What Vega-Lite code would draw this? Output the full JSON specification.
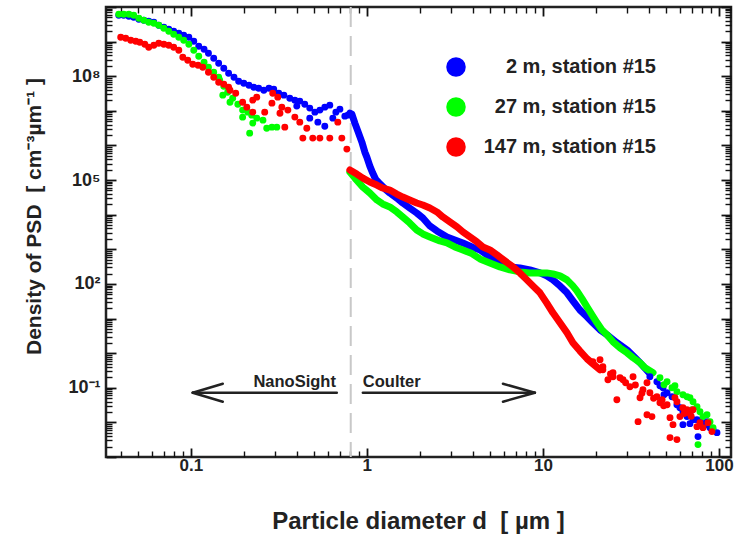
{
  "$schema": "https://vega.github.io/schema/vega-lite/v6.json",
  "width": 625,
  "height": 450,
  "autosize": {"type": "none"},
  "padding": {"left": 106, "top": 7, "right": 9, "bottom": 82},
  "background": "white",
  "config": {
    "view": {"stroke": "#222222", "strokeWidth": 2.5},
    "axis": {"domain": false, "grid": false, "tickColor": "#111111", "tickWidth": 1.8, "labelFont": "Liberation Sans", "labelFontWeight": "bold", "labelColor": "#222222", "titleFont": "Liberation Sans", "titleFontWeight": "bold", "titleColor": "#222222", "labelOverlap": false, "labelFlush": false}
  },
  "resolve": {"axis": {"x": "independent", "y": "independent"}},
  "datasets": {
    "c2": [
      {"d": 0.801, "v": 8.57e6}, {"d": 0.822, "v": 8.03e6}, {"d": 0.855, "v": 4.42e6}, {"d": 0.889, "v": 2.59e6}, {"d": 0.937, "v": 1.25e6}, {"d": 0.974, "v": 6.43e5}, {"d": 1.0, "v": 4.62e5}, {"d": 1.04, "v": 2.54e5}, {"d": 1.08, "v": 1.59e5}, {"d": 1.12, "v": 1.07e5}, {"d": 1.19, "v": 7.67e4}, {"d": 1.27, "v": 5.51e4}, {"d": 1.35, "v": 4.23e4}, {"d": 1.48, "v": 3.03e4}, {"d": 1.6, "v": 2.18e4}, {"d": 1.75, "v": 1.56e4}, {"d": 1.92, "v": 1.12e4}, {"d": 2.08, "v": 8040}, {"d": 2.28, "v": 4720}, {"d": 2.5, "v": 3390}, {"d": 2.85, "v": 2280}, {"d": 3.16, "v": 1860}, {"d": 3.51, "v": 1530}, {"d": 3.95, "v": 1170}, {"d": 4.39, "v": 959}, {"d": 5.0, "v": 603}, {"d": 5.7, "v": 378}, {"d": 6.49, "v": 310}, {"d": 7.4, "v": 290}, {"d": 8.43, "v": 254}, {"d": 9.62, "v": 208}, {"d": 10.5, "v": 171}, {"d": 11.4, "v": 131}, {"d": 12.5, "v": 87.7}, {"d": 13.7, "v": 55.2}, {"d": 14.8, "v": 32.4}, {"d": 16.2, "v": 17.8}, {"d": 17.8, "v": 11.2}, {"d": 19.2, "v": 7.53}, {"d": 21.1, "v": 4.73}, {"d": 23.1, "v": 3.4}, {"d": 26.3, "v": 2.0}, {"d": 30.0, "v": 1.25}, {"d": 32.5, "v": 0.842}, {"d": 35.6, "v": 0.529}, {"d": 40.5, "v": 0.255}
    ],
    "c27": [
      {"d": 0.801, "v": 1.7e5}, {"d": 0.855, "v": 1.14e5}, {"d": 0.949, "v": 6.29e4}, {"d": 1.04, "v": 4.23e4}, {"d": 1.14, "v": 2.66e4}, {"d": 1.23, "v": 2.04e4}, {"d": 1.35, "v": 1.67e4}, {"d": 1.48, "v": 1.2e4}, {"d": 1.6, "v": 8590}, {"d": 1.75, "v": 5770}, {"d": 1.92, "v": 3620}, {"d": 2.08, "v": 2780}, {"d": 2.28, "v": 2280}, {"d": 2.6, "v": 1740}, {"d": 2.85, "v": 1530}, {"d": 3.16, "v": 1170}, {"d": 3.51, "v": 959}, {"d": 3.95, "v": 752}, {"d": 4.39, "v": 528}, {"d": 5.0, "v": 405}, {"d": 5.7, "v": 310}, {"d": 6.49, "v": 254}, {"d": 7.4, "v": 222}, {"d": 8.43, "v": 208}, {"d": 9.62, "v": 208}, {"d": 10.5, "v": 208}, {"d": 11.4, "v": 195}, {"d": 12.5, "v": 171}, {"d": 13.7, "v": 131}, {"d": 14.8, "v": 87.7}, {"d": 15.6, "v": 63.1}, {"d": 16.7, "v": 37.0}, {"d": 17.8, "v": 21.8}, {"d": 19.0, "v": 12.8}, {"d": 20.3, "v": 7.53}, {"d": 21.6, "v": 4.73}, {"d": 23.1, "v": 3.4}, {"d": 25.0, "v": 2.13}, {"d": 27.4, "v": 1.43}, {"d": 30.0, "v": 1.03}, {"d": 32.5, "v": 0.738}, {"d": 35.6, "v": 0.529}, {"d": 38.0, "v": 0.379}, {"d": 42.2, "v": 0.272}
    ],
    "c147": [
      {"d": 0.801, "v": 1.95e5}, {"d": 0.877, "v": 1.49e5}, {"d": 0.949, "v": 1.14e5}, {"d": 1.04, "v": 8.79e4}, {"d": 1.14, "v": 7.18e4}, {"d": 1.23, "v": 5.9e4}, {"d": 1.35, "v": 5.15e4}, {"d": 1.48, "v": 3.96e4}, {"d": 1.6, "v": 3.24e4}, {"d": 1.75, "v": 2.66e4}, {"d": 1.92, "v": 2.18e4}, {"d": 2.08, "v": 1.91e4}, {"d": 2.28, "v": 1.56e4}, {"d": 2.5, "v": 1.2e4}, {"d": 2.7, "v": 8590}, {"d": 2.96, "v": 6170}, {"d": 3.25, "v": 4430}, {"d": 3.51, "v": 3180}, {"d": 3.85, "v": 2280}, {"d": 4.22, "v": 1630}, {"d": 4.56, "v": 1170}, {"d": 5.0, "v": 959}, {"d": 5.48, "v": 689}, {"d": 6.08, "v": 462}, {"d": 6.76, "v": 310}, {"d": 7.4, "v": 208}, {"d": 8.11, "v": 131}, {"d": 8.77, "v": 87.7}, {"d": 9.62, "v": 55.2}, {"d": 10.5, "v": 28.4}, {"d": 11.4, "v": 14.6}, {"d": 12.5, "v": 7.53}, {"d": 13.7, "v": 3.87}, {"d": 14.8, "v": 2.0}, {"d": 16.2, "v": 1.17}, {"d": 17.8, "v": 0.69}, {"d": 19.2, "v": 0.495}, {"d": 21.1, "v": 0.332}
    ],
    "pts": [
      {"series": "2 m, station #15", "d": 0.039, "v": 5.77e9}, {"series": "2 m, station #15", "d": 0.0416, "v": 5.77e9}, {"series": "2 m, station #15", "d": 0.0445, "v": 5.4e9}, {"series": "2 m, station #15", "d": 0.0474, "v": 5.05e9}, {"series": "2 m, station #15", "d": 0.0507, "v": 4.42e9}, {"series": "2 m, station #15", "d": 0.0541, "v": 4.13e9}, {"series": "2 m, station #15", "d": 0.0577, "v": 3.87e9}, {"series": "2 m, station #15", "d": 0.0617, "v": 3.62e9}, {"series": "2 m, station #15", "d": 0.0658, "v": 2.97e9}, {"series": "2 m, station #15", "d": 0.0703, "v": 2.6e9}, {"series": "2 m, station #15", "d": 0.075, "v": 2.28e9}, {"series": "2 m, station #15", "d": 0.08, "v": 1.99e9}, {"series": "2 m, station #15", "d": 0.0855, "v": 1.74e9}, {"series": "2 m, station #15", "d": 0.0912, "v": 1.53e9}, {"series": "2 m, station #15", "d": 0.0975, "v": 1.34e9}, {"series": "2 m, station #15", "d": 0.104, "v": 1.03e9}, {"series": "2 m, station #15", "d": 0.111, "v": 7.35e8}, {"series": "2 m, station #15", "d": 0.119, "v": 6.03e8}, {"series": "2 m, station #15", "d": 0.126, "v": 4.61e8}, {"series": "2 m, station #15", "d": 0.135, "v": 3.31e8}, {"series": "2 m, station #15", "d": 0.144, "v": 2.38e8}, {"series": "2 m, station #15", "d": 0.154, "v": 1.71e8}, {"series": "2 m, station #15", "d": 0.164, "v": 1.22e8}, {"series": "2 m, station #15", "d": 0.176, "v": 9.38e7}, {"series": "2 m, station #15", "d": 0.187, "v": 7.19e7}, {"series": "2 m, station #15", "d": 0.2, "v": 6.3e7}, {"series": "2 m, station #15", "d": 0.214, "v": 5.52e7}, {"series": "2 m, station #15", "d": 0.228, "v": 4.83e7}, {"series": "2 m, station #15", "d": 0.243, "v": 4.52e7}, {"series": "2 m, station #15", "d": 0.26, "v": 3.95e7}, {"series": "2 m, station #15", "d": 0.278, "v": 4.52e7}, {"series": "2 m, station #15", "d": 0.296, "v": 4.23e7}, {"series": "2 m, station #15", "d": 0.316, "v": 3.24e7}, {"series": "2 m, station #15", "d": 0.338, "v": 2.84e7}, {"series": "2 m, station #15", "d": 0.365, "v": 2.32e7}, {"series": "2 m, station #15", "d": 0.39, "v": 2.04e7}, {"series": "2 m, station #15", "d": 0.416, "v": 1.91e7}, {"series": "2 m, station #15", "d": 0.4, "v": 1.37e7}, {"series": "2 m, station #15", "d": 0.444, "v": 1.56e7}, {"series": "2 m, station #15", "d": 0.474, "v": 1.2e7}, {"series": "2 m, station #15", "d": 0.507, "v": 9.17e6}, {"series": "2 m, station #15", "d": 0.474, "v": 6.15e6}, {"series": "2 m, station #15", "d": 0.541, "v": 1.05e7}, {"series": "2 m, station #15", "d": 0.527, "v": 4.72e6}, {"series": "2 m, station #15", "d": 0.577, "v": 3.61e6}, {"series": "2 m, station #15", "d": 0.577, "v": 1.28e7}, {"series": "2 m, station #15", "d": 0.616, "v": 1.46e7}, {"series": "2 m, station #15", "d": 0.641, "v": 6.15e6}, {"series": "2 m, station #15", "d": 0.667, "v": 9.17e6}, {"series": "2 m, station #15", "d": 0.703, "v": 1.12e7}, {"series": "2 m, station #15", "d": 0.75, "v": 7.03e6}, {"series": "2 m, station #15", "d": 0.78, "v": 7.51e6},
      {"series": "2 m, station #15", "d": 40.5, "v": 0.209}, {"series": "2 m, station #15", "d": 44.4, "v": 0.15}, {"series": "2 m, station #15", "d": 46.2, "v": 0.115}, {"series": "2 m, station #15", "d": 48.1, "v": 0.1}, {"series": "2 m, station #15", "d": 48.7, "v": 0.0631}, {"series": "2 m, station #15", "d": 50.7, "v": 0.0721}, {"series": "2 m, station #15", "d": 54.1, "v": 0.0552}, {"series": "2 m, station #15", "d": 57.7, "v": 0.0325}, {"series": "2 m, station #15", "d": 60.0, "v": 0.0266}, {"series": "2 m, station #15", "d": 62.4, "v": 0.0204}, {"series": "2 m, station #15", "d": 62.4, "v": 0.00861}, {"series": "2 m, station #15", "d": 65.8, "v": 0.0147}, {"series": "2 m, station #15", "d": 68.4, "v": 0.0167}, {"series": "2 m, station #15", "d": 68.4, "v": 0.0092}, {"series": "2 m, station #15", "d": 71.2, "v": 0.012}, {"series": "2 m, station #15", "d": 75.0, "v": 0.012}, {"series": "2 m, station #15", "d": 76.0, "v": 0.00388}, {"series": "2 m, station #15", "d": 78.0, "v": 0.0112}, {"series": "2 m, station #15", "d": 81.1, "v": 0.0092}, {"series": "2 m, station #15", "d": 85.5, "v": 0.00861}, {"series": "2 m, station #15", "d": 85.5, "v": 0.0105}, {"series": "2 m, station #15", "d": 88.9, "v": 0.00705}, {"series": "2 m, station #15", "d": 92.5, "v": 0.00618}, {"series": "2 m, station #15", "d": 97.4, "v": 0.00506},
      {"series": "27 m, station #15", "d": 0.039, "v": 6.15e9}, {"series": "27 m, station #15", "d": 0.0416, "v": 6.15e9}, {"series": "27 m, station #15", "d": 0.0445, "v": 6.15e9}, {"series": "27 m, station #15", "d": 0.0474, "v": 5.77e9}, {"series": "27 m, station #15", "d": 0.0507, "v": 4.72e9}, {"series": "27 m, station #15", "d": 0.0541, "v": 4.13e9}, {"series": "27 m, station #15", "d": 0.0577, "v": 3.62e9}, {"series": "27 m, station #15", "d": 0.0617, "v": 3.39e9}, {"series": "27 m, station #15", "d": 0.0658, "v": 2.97e9}, {"series": "27 m, station #15", "d": 0.0703, "v": 2.43e9}, {"series": "27 m, station #15", "d": 0.075, "v": 1.99e9}, {"series": "27 m, station #15", "d": 0.08, "v": 1.63e9}, {"series": "27 m, station #15", "d": 0.0855, "v": 1.34e9}, {"series": "27 m, station #15", "d": 0.0912, "v": 1.1e9}, {"series": "27 m, station #15", "d": 0.0975, "v": 8.39e8}, {"series": "27 m, station #15", "d": 0.104, "v": 5.63e8}, {"series": "27 m, station #15", "d": 0.111, "v": 3.78e8}, {"series": "27 m, station #15", "d": 0.119, "v": 2.54e8}, {"series": "27 m, station #15", "d": 0.126, "v": 1.82e8}, {"series": "27 m, station #15", "d": 0.135, "v": 1.31e8}, {"series": "27 m, station #15", "d": 0.144, "v": 9.38e7}, {"series": "27 m, station #15", "d": 0.146, "v": 7.69e7}, {"series": "27 m, station #15", "d": 0.154, "v": 5.16e7}, {"series": "27 m, station #15", "d": 0.152, "v": 2.84e7}, {"series": "27 m, station #15", "d": 0.162, "v": 3.46e7}, {"series": "27 m, station #15", "d": 0.173, "v": 2.32e7}, {"series": "27 m, station #15", "d": 0.167, "v": 1.78e7}, {"series": "27 m, station #15", "d": 0.185, "v": 1.56e7}, {"series": "27 m, station #15", "d": 0.197, "v": 1.05e7}, {"series": "27 m, station #15", "d": 0.211, "v": 9.17e6}, {"series": "27 m, station #15", "d": 0.197, "v": 6.58e6}, {"series": "27 m, station #15", "d": 0.222, "v": 7.51e6}, {"series": "27 m, station #15", "d": 0.225, "v": 4.42e6}, {"series": "27 m, station #15", "d": 0.216, "v": 2.27e6}, {"series": "27 m, station #15", "d": 0.237, "v": 6.15e6}, {"series": "27 m, station #15", "d": 0.257, "v": 5.39e6}, {"series": "27 m, station #15", "d": 0.27, "v": 3.16e6}, {"series": "27 m, station #15", "d": 0.289, "v": 3.38e6}, {"series": "27 m, station #15", "d": 0.308, "v": 3.38e6},
      {"series": "27 m, station #15", "d": 46.2, "v": 0.195}, {"series": "27 m, station #15", "d": 48.7, "v": 0.122}, {"series": "27 m, station #15", "d": 50.7, "v": 0.15}, {"series": "27 m, station #15", "d": 54.1, "v": 0.1}, {"series": "27 m, station #15", "d": 56.2, "v": 0.115}, {"series": "27 m, station #15", "d": 57.7, "v": 0.0771}, {"series": "27 m, station #15", "d": 62.4, "v": 0.0631}, {"series": "27 m, station #15", "d": 65.8, "v": 0.0552}, {"series": "27 m, station #15", "d": 68.4, "v": 0.0516}, {"series": "27 m, station #15", "d": 70.3, "v": 0.0233}, {"series": "27 m, station #15", "d": 71.2, "v": 0.0396}, {"series": "27 m, station #15", "d": 75.0, "v": 0.0284}, {"series": "27 m, station #15", "d": 76.0, "v": 0.00228}, {"series": "27 m, station #15", "d": 78.0, "v": 0.0204}, {"series": "27 m, station #15", "d": 81.1, "v": 0.0147}, {"series": "27 m, station #15", "d": 85.5, "v": 0.0167}, {"series": "27 m, station #15", "d": 88.9, "v": 0.0105}, {"series": "27 m, station #15", "d": 92.5, "v": 0.00705},
      {"series": "147 m, station #15", "d": 0.04, "v": 1.34e9}, {"series": "147 m, station #15", "d": 0.0427, "v": 1.25e9}, {"series": "147 m, station #15", "d": 0.0456, "v": 1.1e9}, {"series": "147 m, station #15", "d": 0.0487, "v": 1.03e9}, {"series": "147 m, station #15", "d": 0.0513, "v": 9.59e8}, {"series": "147 m, station #15", "d": 0.0548, "v": 8.39e8}, {"series": "147 m, station #15", "d": 0.0577, "v": 6.87e8}, {"series": "147 m, station #15", "d": 0.0617, "v": 7.85e8}, {"series": "147 m, station #15", "d": 0.0658, "v": 8.97e8}, {"series": "147 m, station #15", "d": 0.0703, "v": 8.39e8}, {"series": "147 m, station #15", "d": 0.075, "v": 7.85e8}, {"series": "147 m, station #15", "d": 0.08, "v": 6.87e8}, {"series": "147 m, station #15", "d": 0.0855, "v": 5.63e8}, {"series": "147 m, station #15", "d": 0.0901, "v": 3.54e8}, {"series": "147 m, station #15", "d": 0.0961, "v": 2.9e8}, {"series": "147 m, station #15", "d": 0.1026, "v": 2.22e8}, {"series": "147 m, station #15", "d": 0.11, "v": 2.08e8}, {"series": "147 m, station #15", "d": 0.117, "v": 1.82e8}, {"series": "147 m, station #15", "d": 0.126, "v": 1.31e8}, {"series": "147 m, station #15", "d": 0.135, "v": 9.38e7}, {"series": "147 m, station #15", "d": 0.144, "v": 6.73e7}, {"series": "147 m, station #15", "d": 0.154, "v": 5.89e7}, {"series": "147 m, station #15", "d": 0.164, "v": 4.83e7}, {"series": "147 m, station #15", "d": 0.167, "v": 3.95e7}, {"series": "147 m, station #15", "d": 0.18, "v": 3.24e7}, {"series": "147 m, station #15", "d": 0.197, "v": 1.78e7}, {"series": "147 m, station #15", "d": 0.208, "v": 1.28e7}, {"series": "147 m, station #15", "d": 0.225, "v": 2.04e7}, {"series": "147 m, station #15", "d": 0.237, "v": 2.49e7}, {"series": "147 m, station #15", "d": 0.225, "v": 9.17e6}, {"series": "147 m, station #15", "d": 0.263, "v": 9.17e6}, {"series": "147 m, station #15", "d": 0.292, "v": 3.24e7}, {"series": "147 m, station #15", "d": 0.312, "v": 2.49e7}, {"series": "147 m, station #15", "d": 0.289, "v": 1.67e7}, {"series": "147 m, station #15", "d": 0.329, "v": 1.28e7}, {"series": "147 m, station #15", "d": 0.356, "v": 1.05e7}, {"series": "147 m, station #15", "d": 0.321, "v": 8.57e6}, {"series": "147 m, station #15", "d": 0.39, "v": 6.59e6}, {"series": "147 m, station #15", "d": 0.416, "v": 4.72e6}, {"series": "147 m, station #15", "d": 0.342, "v": 3.38e6}, {"series": "147 m, station #15", "d": 0.456, "v": 3.16e6}, {"series": "147 m, station #15", "d": 0.433, "v": 1.63e6}, {"series": "147 m, station #15", "d": 0.493, "v": 1.63e6}, {"series": "147 m, station #15", "d": 0.541, "v": 1.63e6}, {"series": "147 m, station #15", "d": 0.616, "v": 1.63e6}, {"series": "147 m, station #15", "d": 0.684, "v": 4.72e6}, {"series": "147 m, station #15", "d": 0.721, "v": 1.63e6}, {"series": "147 m, station #15", "d": 0.77, "v": 7.84e5},
      {"series": "147 m, station #15", "d": 21.1, "v": 0.645}, {"series": "147 m, station #15", "d": 19.2, "v": 0.565}, {"series": "147 m, station #15", "d": 21.9, "v": 0.332}, {"series": "147 m, station #15", "d": 21.9, "v": 0.405}, {"series": "147 m, station #15", "d": 23.4, "v": 0.171}, {"series": "147 m, station #15", "d": 24.2, "v": 0.25}, {"series": "147 m, station #15", "d": 25.0, "v": 0.272}, {"series": "147 m, station #15", "d": 25.0, "v": 0.209}, {"series": "147 m, station #15", "d": 26.3, "v": 0.0453}, {"series": "147 m, station #15", "d": 27.4, "v": 0.195}, {"series": "147 m, station #15", "d": 28.5, "v": 0.171}, {"series": "147 m, station #15", "d": 29.5, "v": 0.14}, {"series": "147 m, station #15", "d": 31.2, "v": 0.107}, {"series": "147 m, station #15", "d": 32.5, "v": 0.209}, {"series": "147 m, station #15", "d": 33.5, "v": 0.12}, {"series": "147 m, station #15", "d": 34.7, "v": 0.0105}, {"series": "147 m, station #15", "d": 35.6, "v": 0.0516}, {"series": "147 m, station #15", "d": 36.5, "v": 0.07}, {"series": "147 m, station #15", "d": 37.0, "v": 0.0879}, {"series": "147 m, station #15", "d": 39.0, "v": 0.14}, {"series": "147 m, station #15", "d": 39.0, "v": 0.0167}, {"series": "147 m, station #15", "d": 40.5, "v": 0.0721}, {"series": "147 m, station #15", "d": 41.6, "v": 0.0147}, {"series": "147 m, station #15", "d": 42.5, "v": 0.05}, {"series": "147 m, station #15", "d": 44.4, "v": 0.0552}, {"series": "147 m, station #15", "d": 46.2, "v": 0.0371}, {"series": "147 m, station #15", "d": 47.5, "v": 0.045}, {"series": "147 m, station #15", "d": 48.5, "v": 0.03}, {"series": "147 m, station #15", "d": 50.7, "v": 0.0325}, {"series": "147 m, station #15", "d": 52.7, "v": 0.00363}, {"series": "147 m, station #15", "d": 52.7, "v": 0.0137}, {"series": "147 m, station #15", "d": 54.8, "v": 0.00861}, {"series": "147 m, station #15", "d": 56.2, "v": 0.0516}, {"series": "147 m, station #15", "d": 57.7, "v": 0.0396}, {"series": "147 m, station #15", "d": 57.7, "v": 0.00318}, {"series": "147 m, station #15", "d": 60.0, "v": 0.0147}, {"series": "147 m, station #15", "d": 62.4, "v": 0.0266}, {"series": "147 m, station #15", "d": 63.5, "v": 0.018}, {"series": "147 m, station #15", "d": 65.8, "v": 0.0233}, {"series": "147 m, station #15", "d": 67.0, "v": 0.019}, {"series": "147 m, station #15", "d": 69.5, "v": 0.015}, {"series": "147 m, station #15", "d": 71.2, "v": 0.0233}, {"series": "147 m, station #15", "d": 75.0, "v": 0.00754}, {"series": "147 m, station #15", "d": 78.0, "v": 0.00984}, {"series": "147 m, station #15", "d": 81.1, "v": 0.00705}, {"series": "147 m, station #15", "d": 86.6, "v": 0.00984}, {"series": "147 m, station #15", "d": 91.2, "v": 0.00541}
    ],
    "arrows": [
      {"x1": 0.1026, "x2": 0.675, "y1": 0.0721, "y2": 0.0721},
      {"x1": 0.1026, "x2": 0.152, "y1": 0.0721, "y2": 0.131},
      {"x1": 0.1026, "x2": 0.152, "y1": 0.0721, "y2": 0.0396},
      {"x1": 0.949, "x2": 9.0, "y1": 0.0721, "y2": 0.0721},
      {"x1": 9.0, "x2": 5.93, "y1": 0.0721, "y2": 0.131},
      {"x1": 9.0, "x2": 5.93, "y1": 0.0721, "y2": 0.0396}
    ]
  },
  "layer": [
    {
      "data": {"values": [{"d": 0.81}]},
      "mark": {"type": "rule", "color": "#c8c8c8", "strokeWidth": 2, "strokeDash": [20, 9]},
      "encoding": {
        "x": {"field": "d", "type": "quantitative", "scale": {"type": "log", "domain": [0.033, 117], "nice": false}, "axis": null}
      }
    },
    {
      "data": {"name": "c2"},
      "mark": {"type": "line", "color": "#0000ff", "strokeWidth": 7, "strokeCap": "round", "strokeJoin": "round"},
      "encoding": {
        "x": {"field": "d", "type": "quantitative", "scale": {"type": "log", "domain": [0.033, 117], "nice": false},
          "axis": {"orient": "bottom", "ticks": true, "tickSize": -9, "values": [0.1, 1, 10, 100], "format": "~g", "labelPadding": 9, "labelFontSize": 17, "title": "Particle diameter d\u00a0\u00a0[ µm ]", "titleFontSize": 24, "titleX": 312, "titleY": 71, "titleBaseline": "alphabetic"}},
        "y": {"field": "v", "type": "quantitative", "scale": {"type": "log", "domain": [0.001, 1e10], "nice": false},
          "axis": {"orient": "left", "ticks": true, "tickSize": -10, "values": [0.001, 0.01, 0.1, 1, 10, 100, 1000, 10000, 100000, 1000000, 10000000, 100000000, 1000000000, 10000000000], "labelExpr": "datum.value == 100000000 ? '10⁸' : datum.value == 100000 ? '10⁵' : datum.value == 100 ? '10²' : datum.value == 0.1 ? '10⁻¹' : ''", "labelPadding": 16, "labelFontSize": 18, "title": "Density of PSD\u00a0\u00a0[ cm⁻³µm⁻¹ ]", "titleFontSize": 21, "titleAngle": 270, "titleX": -66, "titleY": 209, "titleBaseline": "alphabetic", "titleAlign": "center"}}
      }
    },
    {
      "data": {"name": "c27"},
      "mark": {"type": "line", "color": "#00ff00", "strokeWidth": 7, "strokeCap": "round", "strokeJoin": "round"},
      "encoding": {
        "x": {"field": "d", "type": "quantitative", "scale": {"type": "log", "domain": [0.033, 117], "nice": false},
          "axis": {"orient": "top", "ticks": true, "tickSize": -9, "values": [0.1, 1, 10, 100], "labels": false, "title": null}},
        "y": {"field": "v", "type": "quantitative", "scale": {"type": "log", "domain": [0.001, 1e10], "nice": false},
          "axis": {"orient": "right", "ticks": true, "tickSize": -10, "values": [0.001, 0.01, 0.1, 1, 10, 100, 1000, 10000, 100000, 1000000, 10000000, 100000000, 1000000000, 10000000000], "labels": false, "title": null}}
      }
    },
    {
      "data": {"name": "c147"},
      "mark": {"type": "line", "color": "#ff0000", "strokeWidth": 7, "strokeCap": "round", "strokeJoin": "round"},
      "encoding": {
        "x": {"field": "d", "type": "quantitative", "scale": {"type": "log", "domain": [0.033, 117], "nice": false},
          "axis": {"orient": "bottom", "ticks": true, "tickSize": -6, "tickWidth": 1.4, "values": [0.04, 0.05, 0.06, 0.07, 0.08, 0.09, 0.2, 0.3, 0.4, 0.5, 0.6, 0.7, 0.8, 0.9, 2, 3, 4, 5, 6, 7, 8, 9, 20, 30, 40, 50, 60, 70, 80, 90], "labels": false, "title": null}},
        "y": {"field": "v", "type": "quantitative", "scale": {"type": "log", "domain": [0.001, 1e10], "nice": false},
          "axis": {"orient": "left", "ticks": true, "tickSize": -6, "tickWidth": 1.4, "values": [2e-3, 3e-3, 4e-3, 5e-3, 6e-3, 7e-3, 8e-3, 9e-3, 2e-2, 3e-2, 4e-2, 5e-2, 6e-2, 7e-2, 8e-2, 9e-2, 0.2, 0.3, 0.4, 0.5, 0.6, 0.7, 0.8, 0.9, 2, 3, 4, 5, 6, 7, 8, 9, 20, 30, 40, 50, 60, 70, 80, 90, 200, 300, 400, 500, 600, 700, 800, 900, 2e3, 3e3, 4e3, 5e3, 6e3, 7e3, 8e3, 9e3, 2e4, 3e4, 4e4, 5e4, 6e4, 7e4, 8e4, 9e4, 2e5, 3e5, 4e5, 5e5, 6e5, 7e5, 8e5, 9e5, 2e6, 3e6, 4e6, 5e6, 6e6, 7e6, 8e6, 9e6, 2e7, 3e7, 4e7, 5e7, 6e7, 7e7, 8e7, 9e7, 2e8, 3e8, 4e8, 5e8, 6e8, 7e8, 8e8, 9e8, 2e9, 3e9, 4e9, 5e9, 6e9, 7e9, 8e9, 9e9], "labels": false, "title": null}}
      }
    },
    {
      "data": {"name": "pts"},
      "mark": {"type": "circle", "size": 48, "opacity": 1},
      "encoding": {
        "x": {"field": "d", "type": "quantitative", "scale": {"type": "log", "domain": [0.033, 117], "nice": false},
          "axis": {"orient": "top", "ticks": true, "tickSize": -6, "tickWidth": 1.4, "values": [0.04, 0.05, 0.06, 0.07, 0.08, 0.09, 0.2, 0.3, 0.4, 0.5, 0.6, 0.7, 0.8, 0.9, 2, 3, 4, 5, 6, 7, 8, 9, 20, 30, 40, 50, 60, 70, 80, 90], "labels": false, "title": null}},
        "y": {"field": "v", "type": "quantitative", "scale": {"type": "log", "domain": [0.001, 1e10], "nice": false},
          "axis": {"orient": "right", "ticks": true, "tickSize": -6, "tickWidth": 1.4, "values": [2e-3, 3e-3, 4e-3, 5e-3, 6e-3, 7e-3, 8e-3, 9e-3, 2e-2, 3e-2, 4e-2, 5e-2, 6e-2, 7e-2, 8e-2, 9e-2, 0.2, 0.3, 0.4, 0.5, 0.6, 0.7, 0.8, 0.9, 2, 3, 4, 5, 6, 7, 8, 9, 20, 30, 40, 50, 60, 70, 80, 90, 200, 300, 400, 500, 600, 700, 800, 900, 2e3, 3e3, 4e3, 5e3, 6e3, 7e3, 8e3, 9e3, 2e4, 3e4, 4e4, 5e4, 6e4, 7e4, 8e4, 9e4, 2e5, 3e5, 4e5, 5e5, 6e5, 7e5, 8e5, 9e5, 2e6, 3e6, 4e6, 5e6, 6e6, 7e6, 8e6, 9e6, 2e7, 3e7, 4e7, 5e7, 6e7, 7e7, 8e7, 9e7, 2e8, 3e8, 4e8, 5e8, 6e8, 7e8, 8e8, 9e8, 2e9, 3e9, 4e9, 5e9, 6e9, 7e9, 8e9, 9e9], "labels": false, "title": null}},
        "color": {"field": "series", "type": "nominal",
          "scale": {"domain": ["2 m, station #15", "27 m, station #15", "147 m, station #15"], "range": ["#0000ff", "#00ff00", "#ff0000"]},
          "legend": {"title": null, "orient": "none", "legendX": 340, "legendY": 50, "symbolSize": 380, "symbolType": "circle", "symbolStrokeWidth": 0, "symbolOpacity": 1, "labelFont": "Liberation Sans", "labelFontSize": 20, "labelFontWeight": "bold", "labelColor": "#222222", "labelAlign": "right", "labelOffset": 190, "labelLimit": 400, "rowPadding": 20, "padding": 0}}
      }
    },
    {
      "data": {"name": "arrows"},
      "mark": {"type": "rule", "color": "#222222", "strokeWidth": 2.5, "strokeCap": "round"},
      "encoding": {
        "x": {"field": "x1", "type": "quantitative", "scale": {"type": "log", "domain": [0.033, 117], "nice": false}, "axis": null},
        "x2": {"field": "x2"},
        "y": {"field": "y1", "type": "quantitative", "scale": {"type": "log", "domain": [0.001, 1e10], "nice": false}, "axis": null},
        "y2": {"field": "y2"}
      }
    },
    {
      "data": {"values": [{"t": "NanoSight", "d": 0.667, "v": 0.107}]},
      "mark": {"type": "text", "align": "right", "baseline": "alphabetic", "font": "Liberation Sans", "fontWeight": "bold", "fontSize": 16.5, "color": "#222222"},
      "encoding": {
        "x": {"field": "d", "type": "quantitative", "scale": {"type": "log", "domain": [0.033, 117], "nice": false}, "axis": null},
        "y": {"field": "v", "type": "quantitative", "scale": {"type": "log", "domain": [0.001, 1e10], "nice": false}, "axis": null},
        "text": {"field": "t"}
      }
    },
    {
      "data": {"values": [{"t": "Coulter", "d": 0.949, "v": 0.107}]},
      "mark": {"type": "text", "align": "left", "baseline": "alphabetic", "font": "Liberation Sans", "fontWeight": "bold", "fontSize": 16.5, "color": "#222222"},
      "encoding": {
        "x": {"field": "d", "type": "quantitative", "scale": {"type": "log", "domain": [0.033, 117], "nice": false}, "axis": null},
        "y": {"field": "v", "type": "quantitative", "scale": {"type": "log", "domain": [0.001, 1e10], "nice": false}, "axis": null},
        "text": {"field": "t"}
      }
    }
  ]
}
